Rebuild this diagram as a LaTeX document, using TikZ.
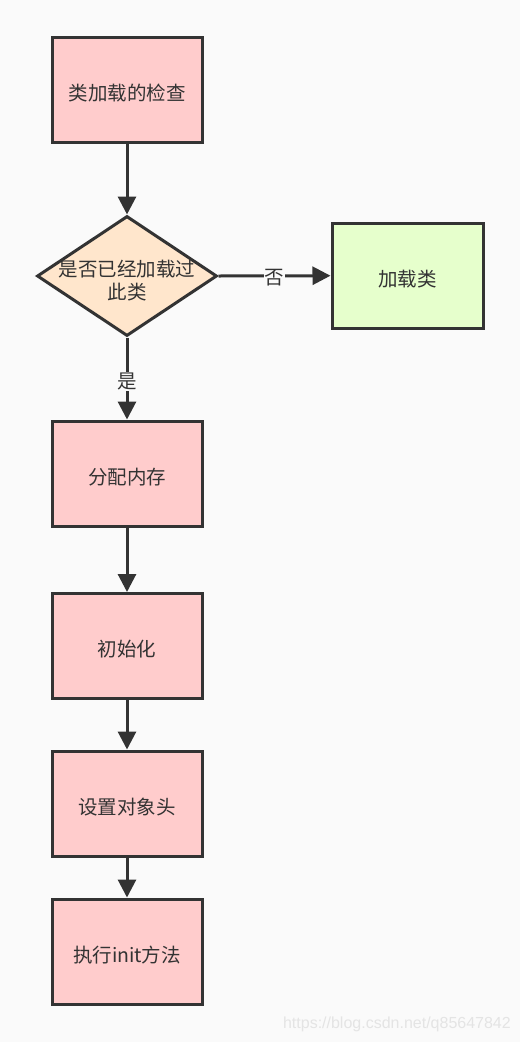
\documentclass[tikz,border=0pt]{standalone}
\usepackage{fontspec}
\newfontfamily\cjk{Noto Sans CJK SC}
\newfontfamily\wm{Liberation Sans}
\usetikzlibrary{shapes.geometric,arrows.meta}
\definecolor{bgc}{HTML}{FAFAFA}
\definecolor{pinkc}{HTML}{FFCCCC}
\definecolor{peachc}{HTML}{FFE6CC}
\definecolor{greenc}{HTML}{E6FFCC}
\definecolor{strokec}{HTML}{333333}
\definecolor{wmc}{HTML}{E4E4E4}
\tikzset{
  stepbox/.style={draw=strokec, line width=3pt, fill=pinkc, minimum width=150pt, minimum height=105pt, inner sep=0pt, text height=23pt, text depth=1.5pt, text=strokec, font=\cjk\fontsize{19.5pt}{24pt}\selectfont},
  decide/.style={diamond, aspect=1.5, draw=strokec, line width=3pt, fill=peachc, minimum width=180pt, minimum height=120pt, inner sep=0pt},
  conn/.style={draw=strokec, line width=3pt, -{Triangle[length=18pt,width=18pt]}},
  lbl/.style={fill=bgc, text=strokec, inner sep=1pt, font=\cjk\fontsize{19.5pt}{24pt}\selectfont}
}
\begin{document}
\begin{tikzpicture}[x=1pt,y=-1pt]
\fill[bgc] (0,0) rectangle (520,1042);
\useasboundingbox (0,0) rectangle (520,1042);
\node[stepbox] (check) at (127,89.5) {类加载的检查};
\node[decide] (dec) at (127,276) {};
\node[text=strokec, align=center, font=\cjk\fontsize{19.5pt}{23pt}\selectfont] (dectext) at (127,281) {是否已经加载过\\此类};
\node[stepbox, fill=greenc, minimum width=151pt] (load) at (407.5,275.5) {加载类};
\node[stepbox] (alloc) at (127,473.5) {分配内存};
\node[stepbox] (init) at (127,646) {初始化};
\node[stepbox] (head) at (127,803.5) {设置对象头};
\node[stepbox] (initm) at (127,951.5) {执行init方法};
\draw[conn] (check) -- (dec);
\draw[conn] (dec.east) -- node[lbl, yshift=-2pt] (no) {否} (load);
\draw[conn] (dec.south) -- node[lbl, yshift=-3pt] (yes) {是} (alloc);
\draw[conn] (alloc) -- (init);
\draw[conn] (init) -- (head);
\draw[conn] (head) -- (initm);
\node[anchor=east, text=wmc, font=\wm\fontsize{16pt}{18pt}\selectfont, inner sep=0pt] (mark) at (511,1024) {https://blog.csdn.net/q85647842};
\end{tikzpicture}
\end{document}
